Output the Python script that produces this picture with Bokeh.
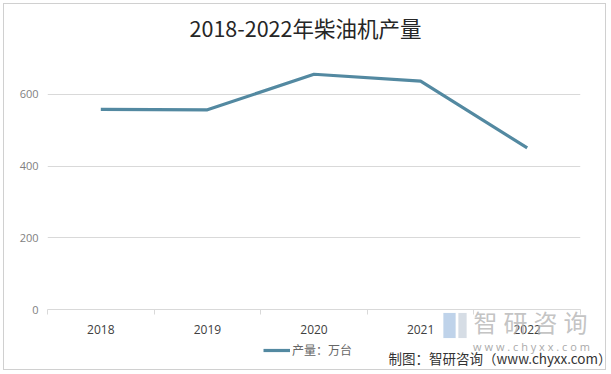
from bokeh.plotting import figure
from bokeh.models import Range1d, FixedTicker, Label, Legend, LegendItem, ColumnDataSource
from bokeh.embed import file_html
from bokeh.resources import INLINE

# ---- data ----
years = ["2018", "2019", "2020", "2021", "2022"]
output = [558, 557, 656, 637, 451]
y_ticks = [0, 200, 400, 600]
title_text = "2018-2022年柴油机产量"
series_name = "产量：万台"
source_text = "制图：智研咨询（www.chyxx.com）"
wm_chars = ["智", "研", "咨", "询"]
wm_url = "w w w . c h y x x . c o m"

CJK = "Noto Sans CJK SC"
LINE_COLOR = "#5389a1"

idx = list(range(len(years)))
src = ColumnDataSource(dict(x=idx, y=output, year=years))

# ---------------- main chart ----------------
p = figure(width=603, height=367, output_backend="svg", toolbar_location=None, title=None,
           x_range=Range1d(-0.5, len(years) - 0.5), y_range=Range1d(0, 700),
           min_border_left=43, min_border_right=27, min_border_top=54, min_border_bottom=62)
p.styles = {"margin-left": "3px", "margin-top": "3px", "border": "1px solid #d0d0d0",
            "box-sizing": "border-box"}
p.outline_line_color = None
p.background_fill_color = "white"
p.border_fill_color = "white"

p.xaxis.ticker = FixedTicker(ticks=idx, minor_ticks=[i - 0.5 for i in range(len(years) + 1)])
p.xaxis.major_label_overrides = {i: y for i, y in enumerate(years)}
p.xaxis.axis_line_color = "#d9d9d9"
p.xaxis.major_tick_line_color = None
p.xaxis.major_tick_out = 0
p.xaxis.minor_tick_line_color = "#d9d9d9"
p.xaxis.minor_tick_out = 5
p.xaxis.minor_tick_in = 0
p.xaxis.major_label_standoff = 10
p.xaxis.major_label_text_font = "Open Sans"
p.xaxis.major_label_text_font_size = "12px"
p.xaxis.major_label_text_color = "#404040"
p.xgrid.visible = False

p.yaxis.ticker = FixedTicker(ticks=y_ticks)
p.yaxis.axis_line_color = None
p.yaxis.major_tick_line_color = None
p.yaxis.minor_tick_line_color = None
p.yaxis.major_tick_out = 0
p.yaxis.major_label_standoff = 9
p.yaxis.major_label_text_font = "Open Sans"
p.yaxis.major_label_text_font_size = "11px"
p.yaxis.major_label_text_color = "#7f7f7f"
p.ygrid.grid_line_color = "#d9d9d9"
p.ygrid.grid_line_width = 1

p.line("x", "y", source=src, line_color=LINE_COLOR, line_width=3.2, line_join="round")

# ---------------- transparent overlay for texts outside the plot area ----------------
o = figure(width=607, height=367, output_backend="svg", toolbar_location=None, title=None,
           x_range=Range1d(0, 1), y_range=Range1d(0, 1),
           x_axis_location=None, y_axis_location=None,
           min_border_left=0, min_border_right=0, min_border_top=0, min_border_bottom=0)
o.styles = {"position": "absolute", "left": "4px", "top": "4px"}
o.outline_line_color = None
o.background_fill_alpha = 0
o.border_fill_alpha = 0
o.grid.visible = False

def txt(**kw):
    o.add_layout(Label(x_units="canvas", y_units="canvas", **kw))

txt(x=301, y=23, text=title_text, text_align="center", text_baseline="middle",
    text_font=CJK, text_font_size="21.5px", text_color="#262626")

# legend: key drawn from the same series (its line lies outside this overlay's view)
proxy = o.line("x", "y", source=src, line_color=LINE_COLOR, line_width=3.2)
legend = Legend(items=[LegendItem(label=series_name, renderers=[proxy])], location=(259, 13),
                orientation="horizontal", glyph_width=27, glyph_height=14, label_height=14,
                label_standoff=2, padding=0, margin=0, spacing=0,
                label_text_font=CJK, label_text_font_size="12px", label_text_color="#666666",
                background_fill_alpha=0, border_line_color=None)
o.add_layout(legend, "center")

# watermark (logo blocks + name + url)
txt(x=445, y=321, text=" ", text_font_size="1px", padding=(6, 12), text_align="center",
    text_baseline="middle", background_fill_color="#b4cbe6", background_fill_alpha=0.85)
txt(x=458, y=321, text=" ", text_font_size="1px", padding=(4, 12), text_align="center",
    text_baseline="middle", background_fill_color="#cfd7e0", background_fill_alpha=0.85)
for k, ch in enumerate(wm_chars):
    txt(x=481 + k * 30, y=317, text=ch, text_align="center", text_baseline="middle",
        text_font=CJK, text_font_size="24px", text_color="#b4b4b4", text_alpha=0.8)
txt(x=527, y=342, text=wm_url, text_align="center", text_baseline="middle",
    text_font="Open Sans", text_font_size="11px", text_color="#aaaaaa")

txt(x=607, y=353, text=source_text, text_align="right", text_baseline="middle",
    text_font=CJK, text_font_size="13.5px", text_color="#333333")

open("out.html", "w").write(file_html([p, o], INLINE))
